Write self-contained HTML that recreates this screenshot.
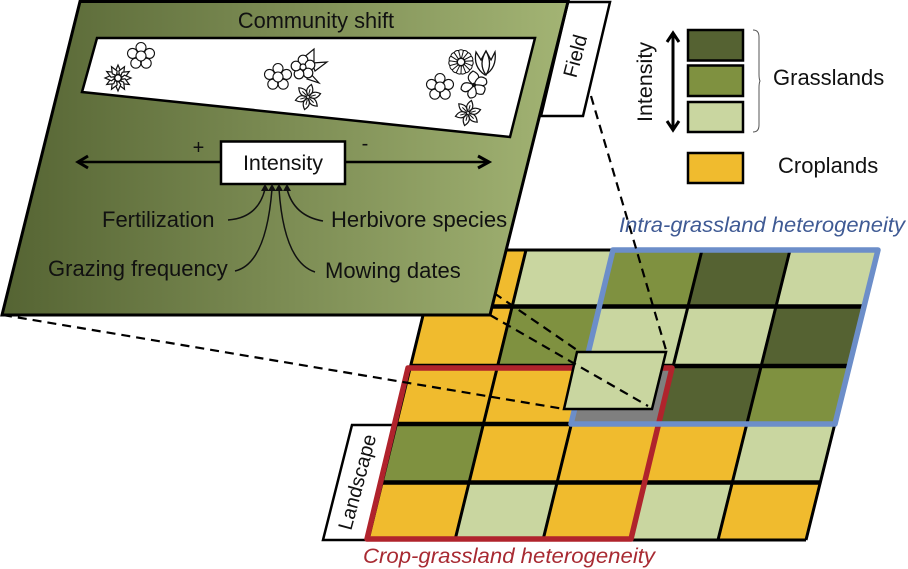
<!DOCTYPE html>
<html><head><meta charset="utf-8">
<style>
html,body{margin:0;padding:0;background:#fff}
svg{display:block}
text{font-family:"Liberation Sans",sans-serif;fill:#111}
</style></head><body>
<svg width="908" height="569" viewBox="0 0 908 569" xmlns="http://www.w3.org/2000/svg">
<defs>
<linearGradient id="pg" x1="0" x2="1" y1="0" y2="0">
<stop offset="0" stop-color="#556433"/><stop offset="1" stop-color="#a3b474"/>
</linearGradient>
<g id="c5" fill="#fff" stroke="#111" stroke-width="1.1">
<circle cx="0" cy="-8.500" r="5"/><circle cx="8.500" cy="-2.600" r="5"/><circle cx="5.200" cy="7.200" r="5"/><circle cx="-5.200" cy="7.200" r="5"/><circle cx="-8.500" cy="-2.600" r="5"/><circle r="5"/>
</g>
<path id="dp" d="M0-3L-2.8-6.500L0-13L2.800-6.500Z" fill="#fff" stroke="#111" stroke-width="1.200"/>
<g id="daisy">
<use href="#dp"/><use href="#dp" transform="rotate(30)"/><use href="#dp" transform="rotate(60)"/><use href="#dp" transform="rotate(90)"/><use href="#dp" transform="rotate(120)"/><use href="#dp" transform="rotate(150)"/><use href="#dp" transform="rotate(180)"/><use href="#dp" transform="rotate(210)"/><use href="#dp" transform="rotate(240)"/><use href="#dp" transform="rotate(270)"/><use href="#dp" transform="rotate(300)"/><use href="#dp" transform="rotate(330)"/>
<circle r="3.200" fill="#fff" stroke="#111" stroke-width="1.200"/>
</g>
<g id="sp"><path d="M0-1.500Q-6-6 0-13Q6-6 0-1.500Z" fill="#fff" stroke="#111" stroke-width="1.200"/><path d="M0-3V-8" stroke="#111" stroke-width="1"/></g>
<g id="star">
<use href="#sp" transform="rotate(15)"/><use href="#sp" transform="rotate(75)"/><use href="#sp" transform="rotate(135)"/><use href="#sp" transform="rotate(195)"/><use href="#sp" transform="rotate(255)"/><use href="#sp" transform="rotate(315)"/>
</g>
<path id="dh" d="M-1.200-4L-2.400-11.500Q0-13 2.400-11.500L1.200-4Z" fill="#fff" stroke="#111" stroke-width="1"/>
<g id="dahlia">
<use href="#dh"/><use href="#dh" transform="rotate(24)"/><use href="#dh" transform="rotate(48)"/><use href="#dh" transform="rotate(72)"/><use href="#dh" transform="rotate(96)"/><use href="#dh" transform="rotate(120)"/><use href="#dh" transform="rotate(144)"/><use href="#dh" transform="rotate(168)"/><use href="#dh" transform="rotate(192)"/><use href="#dh" transform="rotate(216)"/><use href="#dh" transform="rotate(240)"/><use href="#dh" transform="rotate(264)"/><use href="#dh" transform="rotate(288)"/><use href="#dh" transform="rotate(312)"/><use href="#dh" transform="rotate(336)"/>
<circle r="3.600" fill="#fff" stroke="#111" stroke-width="1.100"/>
</g>
</defs>

<!-- grid cells -->
<g>
<polygon points="439,250 526,250 512,306 425,306" fill="#f0bb2e"/>
<polygon points="526,250 614,250 600,306 512,306" fill="#c9d6a0"/>
<polygon points="614,250 702,250 688,306 600,306" fill="#7f9140"/>
<polygon points="702,250 790,250 776,306 688,306" fill="#556232"/>
<polygon points="790,250 878,250 864,306 776,306" fill="#c9d6a0"/>
<polygon points="425,306 512,306 497,366 410,366" fill="#f0bb2e"/>
<polygon points="512,306 600,306 585,366 497,366" fill="#7f9140"/>
<polygon points="600,306 688,306 673,366 585,366" fill="#c9d6a0"/>
<polygon points="688,306 776,306 761,366 673,366" fill="#c9d6a0"/>
<polygon points="776,306 864,306 849,366 761,366" fill="#556232"/>
<polygon points="410,366 497,366 483,424 396,424" fill="#f0bb2e"/>
<polygon points="497,366 585,366 571,424 483,424" fill="#f0bb2e"/>
<polygon points="585,366 673,366 659,424 571,424" fill="#7f7f7f"/>
<polygon points="673,366 761,366 747,424 659,424" fill="#556232"/>
<polygon points="761,366 849,366 835,424 747,424" fill="#7f9140"/>
<polygon points="396,424 483,424 469,482 382,482" fill="#7f9140"/>
<polygon points="483,424 571,424 557,482 469,482" fill="#f0bb2e"/>
<polygon points="571,424 659,424 645,482 557,482" fill="#f0bb2e"/>
<polygon points="659,424 747,424 732,482 645,482" fill="#f0bb2e"/>
<polygon points="747,424 835,424 820,482 732,482" fill="#c9d6a0"/>
<polygon points="382,482 469,482 455,540 368,540" fill="#f0bb2e"/>
<polygon points="469,482 557,482 543,540 455,540" fill="#c9d6a0"/>
<polygon points="557,482 645,482 630,540 543,540" fill="#f0bb2e"/>
<polygon points="645,482 732,482 718,540 630,540" fill="#c9d6a0"/>
<polygon points="732,482 820,482 806,540 718,540" fill="#f0bb2e"/>
</g>
<!-- grid lines -->
<g stroke="#000" fill="none">
<g stroke-width="3">
<path d="M439 250L368 540M526 250L455 540M614 250L543 540M702 250L630 540M790 250L718 540M878 250L806 540"/>
<path d="M439 250H878M368 540H806"/>
</g>
<g stroke-width="4.500"><path d="M425 306.500H864M410 366H849M396 424H835M382 482.500H820"/></g>
</g>

<!-- Landscape tag -->
<polygon points="352,425 396,425 368,540 323,540" fill="#fff" stroke="#000" stroke-width="2.500"/>
<text transform="translate(357,482) rotate(-75)" font-size="20" text-anchor="middle" y="7">Landscape</text>

<!-- heterogeneity frames -->
<polygon points="408,368 672,368 631,539 367,539" fill="none" stroke="#b0232c" stroke-width="5.500" stroke-linejoin="round"/>
<polygon points="613,250 878,250 835,424 571,424" fill="none" stroke="#6c8ec9" stroke-width="5.500" stroke-linejoin="round"/>

<!-- small field -->
<polygon points="577,352 666,352 652,409 564,409" fill="#c9d6a0" stroke="#000" stroke-width="2.500"/>

<!-- dashed -->
<g stroke="#000" stroke-width="2.200" stroke-dasharray="9 6" fill="none">
<path d="M591 96L666 350"/>
<path d="M3 315L564 409"/>
<path d="M490 315L648 406"/>
<path d="M494 293L577 350"/>
</g>

<!-- Field tag -->
<polygon points="568,2 610,2 583,116 541,116" fill="#fff" stroke="#000" stroke-width="2.500"/>
<text transform="translate(575,56) rotate(-75)" font-size="20" text-anchor="middle" y="7">Field</text>

<!-- main panel -->
<polygon points="80,1.500 568,1.500 490,315 2,315" fill="url(#pg)" stroke="#000" stroke-width="3"/>
<text x="316" y="28" font-size="21.800" text-anchor="middle">Community shift</text>
<polygon points="97,38 535,38 510,137 82,92" fill="#fff" stroke="#000" stroke-width="2.500"/>

<!-- flowers -->
<use href="#c5" x="141" y="56"/>
<use href="#daisy" x="118" y="78"/>
<use href="#c5" x="278" y="77"/>
<use href="#star" x="308" y="97"/>
<use href="#c5" x="440" y="87"/>
<use href="#star" x="468" y="113"/>
<use href="#dahlia" x="461" y="62"/>
<!-- leaf flower -->
<g stroke="#111" stroke-width="1.200" fill="#fff">
<path d="M303 58L314 49L314 63Z"/><path d="M312 63L327 62L315 71Z"/><path d="M309 72L319 83L307 79Z"/>
<circle cx="303" cy="60" r="4.800"/><circle cx="310" cy="65" r="4.800"/><circle cx="308" cy="73" r="4.800"/><circle cx="299" cy="74" r="4.800"/><circle cx="296" cy="66" r="4.800"/><circle cx="303" cy="67" r="3"/>
</g>
<!-- tulip -->
<g stroke="#111" stroke-width="1.300" fill="#fff">
<path d="M476 52Q473 67 485 75Q497 68 495 52L491 60L486 51L481 60Z"/>
<path d="M486 75Q478 64 486 51Q493 64 486 75Z"/>
</g>
<!-- dotted flower -->
<g stroke="#111" stroke-width="1.200" fill="#fff">
<path d="M474 85Q463 78 473 71Q484 76 474 85Z"/>
<path d="M474 85Q478 73 486 79Q490 88 474 85Z"/>
<path d="M474 85Q490 84 483 94Q474 96 474 85Z"/>
<path d="M474 85Q480 98 470 98Q464 93 474 85Z"/>
<path d="M474 85Q466 96 461 89Q462 79 474 85Z"/>
<circle cx="474" cy="85" r="1.600" fill="#111"/>
</g>

<!-- intensity -->
<g stroke="#000" stroke-width="2.500" fill="none">
<path d="M78 162H220M345 162H488"/>
<path d="M88 156L78 162L88 168" stroke-width="3"/>
<path d="M478 156L489 162L478 168" stroke-width="3"/>
</g>
<rect x="221" y="141.500" width="124" height="42.500" fill="#fff" stroke="#000" stroke-width="2.500"/>
<text x="283" y="170" font-size="21.500" text-anchor="middle">Intensity</text>
<text x="198.500" y="154" font-size="20" text-anchor="middle">+</text>
<text x="365" y="150" font-size="20" text-anchor="middle">-</text>

<g fill="none" stroke="#111" stroke-width="1.500">
<path d="M228 220Q258 218 265 189"/>
<path d="M235 271Q266 264 272 189"/>
<path d="M315 272Q284 262 279 189"/>
<path d="M323 221Q294 216 287 189"/>
</g>
<g fill="#111">
<polygon points="265,184 261,191 269,191"/>
<polygon points="272,184 268,191 276,191"/>
<polygon points="279,184 275,191 283,191"/>
<polygon points="287,184 283,191 291,191"/>
</g>
<text x="102" y="227" font-size="22">Fertilization</text>
<text x="331" y="227" font-size="22">Herbivore species</text>
<text x="48" y="276" font-size="22">Grazing frequency</text>
<text x="325" y="278" font-size="22">Mowing dates</text>

<!-- legend -->
<g stroke="#000" stroke-width="2.500">
<rect x="688" y="30" width="55" height="30.500" fill="#556232"/>
<rect x="688" y="65.500" width="55" height="30.500" fill="#7f9140"/>
<rect x="688" y="102" width="55" height="30" fill="#c9d6a0"/>
<rect x="688" y="153" width="55" height="30" fill="#f0bb2e"/>
</g>
<g fill="none" stroke="#000" stroke-width="3">
<path d="M673 33V130"/>
<path d="M667 42L673 33L679 42"/>
<path d="M667 121L673 130L679 121"/>
</g>
<path d="M753 30Q759 30 759 37V74Q759 79 760 81Q759 83 759 88V125Q759 132 753 132" fill="none" stroke="#555" stroke-width="1"/>
<text transform="translate(652,82) rotate(-90)" font-size="21.500" text-anchor="middle">Intensity</text>
<text x="773" y="85" font-size="22">Grasslands</text>
<text x="778" y="173" font-size="22">Croplands</text>

<text x="619" y="232" font-size="21" font-style="italic" style="fill:#3f5a94" textLength="286" lengthAdjust="spacingAndGlyphs">Intra-grassland heterogeneity</text>
<text x="363" y="563" font-size="21" font-style="italic" style="fill:#a82a32" textLength="292" lengthAdjust="spacingAndGlyphs">Crop-grassland heterogeneity</text>
</svg>
</body></html>
